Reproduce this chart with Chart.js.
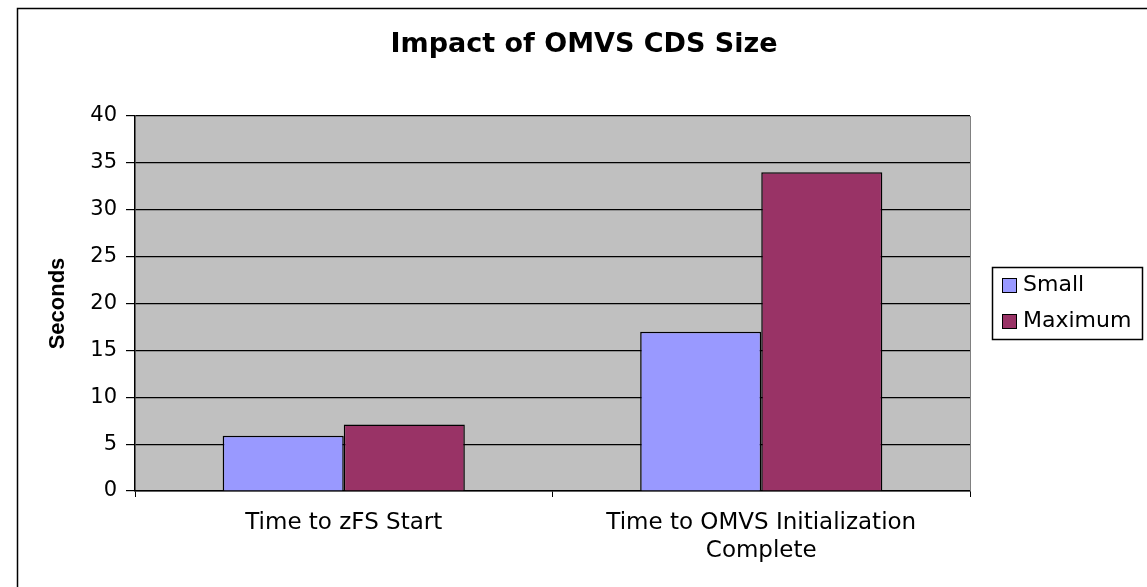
<!DOCTYPE html>
<html>
<head>
<meta charset="utf-8">
<script src="https://cdn.jsdelivr.net/npm/chart.js@4"></script>
<style>
  html, body { margin: 0; padding: 0; background: #fff; }
  #wrap { width: 1147px; height: 587px; position: relative; }
</style>
</head>
<body>
<div id="wrap"><canvas id="myChart" width="1147" height="587"></canvas></div>
<script>
//DATA:
const chartTitle = 'Impact of OMVS CDS Size';
const categories = ['Time to zFS Start', ['Time to OMVS Initialization', 'Complete']];
const smallValues = [5.9, 17];
const maximumValues = [7.1, 34];
const yTicks = [0, 5, 10, 15, 20, 25, 30, 35, 40];

const wideFont = '"DejaVu Sans", Verdana, sans-serif';
const axisFont = '"Liberation Sans", Arial, sans-serif';

//PLUGINS:
const plotBackground = {
  id: 'plotBackground',
  beforeDraw(chart) {
    const {ctx, chartArea} = chart;
    ctx.save();
    ctx.fillStyle = '#c0c0c0';
    ctx.fillRect(chartArea.left, chartArea.top, chartArea.right - chartArea.left, chartArea.bottom - chartArea.top);
    ctx.restore();
  },
  afterDraw(chart) {
    const {ctx, chartArea} = chart;
    ctx.save();
    // outer frame (only top and left are inside the picture)
    ctx.strokeStyle = '#000';
    ctx.lineWidth = 1.5;
    ctx.strokeRect(17.5, 8.5, 1300, 700);
    // right edge of the plot area
    ctx.strokeStyle = '#808080';
    ctx.lineWidth = 1;
    ctx.beginPath();
    ctx.moveTo(chartArea.right + 0.5, chartArea.top);
    ctx.lineTo(chartArea.right + 0.5, chartArea.bottom);
    ctx.stroke();
    // title
    ctx.fillStyle = '#000';
    ctx.font = 'bold 27px ' + wideFont;
    ctx.textAlign = 'center';
    ctx.textBaseline = 'middle';
    ctx.fillText(chartTitle, 584, 45);
    // legend box
    ctx.lineWidth = 1.5;
    ctx.strokeStyle = '#000';
    ctx.strokeRect(992.5, 267.5, 150, 72);
    ctx.font = '22px ' + wideFont;
    ctx.textAlign = 'left';
    chart.data.datasets.forEach((ds, i) => {
      const y = 285 + i * 36;
      ctx.fillStyle = ds.backgroundColor;
      ctx.fillRect(1002, y - 7, 14, 14);
      ctx.lineWidth = 1;
      ctx.strokeRect(1002.5, y - 6.5, 14, 14);
      ctx.fillStyle = '#000';
      ctx.fillText(ds.label, 1023, y);
    });
    ctx.restore();
  }
};

//CHART:
const chartLayout = document.getElementById('myChart');
const myChart = new Chart(chartLayout, {
  type: 'bar',
  data: {
    labels: categories,
    datasets: [
      {
        label: 'Small',
        data: smallValues,
        backgroundColor: '#9999ff',
        borderColor: '#000',
        borderWidth: 1.5
      },
      {
        label: 'Maximum',
        data: maximumValues,
        backgroundColor: '#993366',
        borderColor: '#000',
        borderWidth: 1.5
      }
    ]
  },
  options: {
    responsive: false,
    animation: false,
    layout: {
      padding: { left: 0, right: 177, top: 116, bottom: 0 }
    },
    plugins: {
      legend: { display: false },
      title: { display: false },
      tooltip: { enabled: false }
    },
    datasets: {
      bar: { categoryPercentage: 0.58, barPercentage: 1 }
    },
    scales: {
      x: {
        offset: true,
        afterFit(scale) { scale.height = 96; },
        grid: {
          offset: true,
          drawOnChartArea: false,
          drawTicks: true,
          tickLength: 6,
          color: '#000'
        },
        border: { color: '#000', width: 1.5 },
        ticks: {
          color: '#000',
          padding: 12,
          font: { family: wideFont, size: 23, lineHeight: 1.22 },
          maxRotation: 0
        }
      },
      y: {
        min: 0,
        max: 40,
        afterFit(scale) { scale.width = 135; },
        afterBuildTicks(scale) { scale.ticks = yTicks.map(v => ({ value: v })); },
        grid: {
          color: '#000',
          lineWidth: 1.2,
          tickLength: 9
        },
        border: { color: '#000', width: 1.5 },
        ticks: {
          color: '#000',
          padding: 9,
          font: { family: wideFont, size: 21 }
        },
        title: {
          display: true,
          text: 'Seconds',
          color: '#000',
          padding: { top: 45 },
          font: { family: axisFont, size: 22, weight: 'bold' }
        }
      }
    }
  },
  plugins: [plotBackground]
});
</script>
</body>
</html>
